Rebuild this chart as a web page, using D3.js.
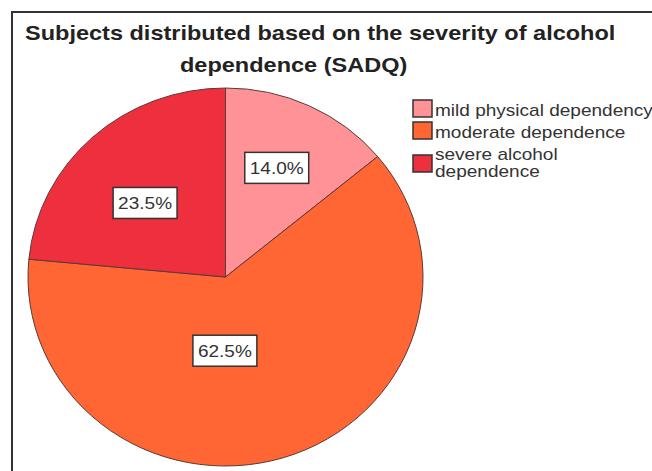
<!DOCTYPE html>
<html>
<head>
<meta charset="utf-8">
<script src="https://cdn.jsdelivr.net/npm/d3@7"></script>
<style>
  html, body { margin: 0; padding: 0; background: #fff; }
  svg { display: block; }
  text { font-family: "Liberation Sans", Arial, sans-serif; }
</style>
</head>
<body>
<svg id="chart" width="652" height="471"></svg>
<script>
// SADQ severity groups and their share of subjects (%)
const categories = ["mild physical dependency", "moderate dependence", "severe alcohol dependence"];
const legendLines = [["mild physical dependency"], ["moderate dependence"], ["severe alcohol", "dependence"]];
const percentages = [14.0, 62.5, 23.5];
const sliceColors = ["#fe9296", "#ff6633", "#ee2f3e"];
const titleLines = ["Subjects distributed based on the severity of alcohol", "dependence (SADQ)"];

// label placement inside each slice: fraction of radius and of the slice's sweep
const labelRadius = [0.633, 0.39, 0.565];
const labelSweep = [0.48, 0.578, 0.455];

const svg = d3.select("#chart");
const W = 652, H = 471;
const textStretch = 1.12;

// frame (left and top edges visible)
svg.append("path")
  .attr("d", `M12,${H} L12,12 L${W},12`)
  .attr("fill", "none")
  .attr("stroke", "#333")
  .attr("stroke-width", 2);

// title
const titleX = [25, 180], titleY = [40, 72];
titleLines.forEach((t, i) => {
  svg.append("g")
    .attr("transform", `translate(${titleX[i]},${titleY[i]}) scale(${textStretch},1)`)
    .append("text")
    .attr("font-size", 21)
    .attr("font-weight", "bold")
    .attr("fill", "#222")
    .text(t);
});

// pie
const cx = 225.5, cy = 277, R = 189, sx = 197.5 / 189;
const pie = d3.pie().sort(null).value(d => d)
  .startAngle(0).endAngle(2 * Math.PI);
const arcs = pie(percentages);
const arc = d3.arc().innerRadius(0).outerRadius(R);

const pieG = svg.append("g")
  .attr("transform", `translate(${cx},${cy}) scale(${sx},1)`);

pieG.selectAll("path.slice")
  .data(arcs)
  .join("path")
  .attr("class", "slice")
  .attr("d", arc)
  .attr("fill", (d, i) => sliceColors[i])
  .attr("stroke", "#5a3a3a")
  .attr("stroke-width", 1)
  .attr("vector-effect", "non-scaling-stroke");

// percentage labels in white boxes
const fmt = d3.format(".1f");
arcs.forEach((d, i) => {
  const a = d.startAngle + (d.endAngle - d.startAngle) * labelSweep[i];
  const r = R * labelRadius[i];
  const [lx, ly] = d3.arc().innerRadius(r).outerRadius(r)
    .centroid({ startAngle: a, endAngle: a });
  const px = cx + lx * sx, py = cy + ly;

  const g = svg.append("g").attr("transform", `translate(${px},${py})`);
  const box = g.append("rect");
  const t = g.append("g").attr("transform", `scale(${textStretch},1)`)
    .append("text")
    .attr("text-anchor", "middle")
    .attr("y", 6)
    .attr("font-size", 17)
    .attr("fill", "#333")
    .text(fmt(d.data) + "%");
  const bb = t.node().getBBox();
  const bw = bb.width * textStretch + 10, bh = 31;
  box.attr("x", -bw / 2).attr("y", -bh / 2)
    .attr("width", bw).attr("height", bh)
    .attr("fill", "#fff")
    .attr("stroke", "#333")
    .attr("stroke-width", 1.5);
});

// legend
const legendX = 413, swatchW = 19, swatchH = 17;
const swatchY = [100, 122, 155];
const lineGap = 16.5;
categories.forEach((c, i) => {
  svg.append("rect")
    .attr("x", legendX).attr("y", swatchY[i])
    .attr("width", swatchW).attr("height", swatchH)
    .attr("fill", sliceColors[i])
    .attr("stroke", "#333")
    .attr("stroke-width", 1.5);
  const lines = legendLines[i];
  const base = lines.length > 1 ? swatchY[i] + 5 : swatchY[i] + 16;
  lines.forEach((ln, j) => {
    svg.append("g")
      .attr("transform", `translate(${legendX + 22},${base + j * lineGap}) scale(${textStretch},1)`)
      .append("text")
      .attr("font-size", 17)
      .attr("fill", "#333")
      .text(ln);
  });
});
</script>
</body>
</html>
